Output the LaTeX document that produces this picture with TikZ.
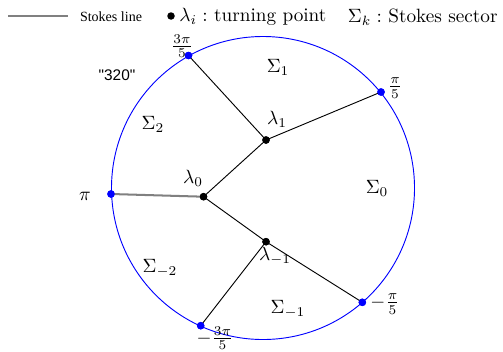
\documentclass[tikz,border=0pt]{standalone}
\usepackage{fontspec}
\newfontfamily\timesf{Liberation Serif}
\newfontfamily\arialf{Liberation Sans}
\begin{document}
\begin{tikzpicture}[x=0.52pt,y=-0.52pt,
  big/.style={font=\normalsize, inner sep=0pt},
  bdot/.style={circle, fill=blue, inner sep=0pt, minimum size=3.9pt},
  kdot/.style={circle, fill=black, inner sep=0pt, minimum size=3.9pt},
  sline/.style={black, line width=0.48pt},
  pline/.style={gray, line width=1.05pt}]
\useasboundingbox (0,0) rectangle (503,351);
% legend
\coordinate (l1) at (8,16);
\coordinate (l2) at (68,16);
\draw[gray, line width=0.7pt] (l1) -- (l2);
\node[inner sep=0pt, font=\timesf\fontsize{7.3}{9}\selectfont] (leg1) at (111,17) {Stokes line};
\node[kdot] (legdot) at (171,16) {};
\node[big, anchor=west] (leg2) at (179,17) {$\lambda_i:$ turning point};
\node[big, anchor=east] (leg3) at (498,17) {$\Sigma_k:$ Stokes sector};
% circle
\node[draw=blue, line width=0.48pt, circle, minimum size={303*0.52pt}, inner sep=0pt] (circ) at (263,188) {};
% points
\node[bdot] (pPi) at (111,194) {};
\node[bdot] (pP1) at (381,92) {};
\node[bdot] (pP3) at (188.5,55.5) {};
\node[bdot] (pM3) at (200.7,325.7) {};
\node[bdot] (pM1) at (362.3,302.3) {};
\node[kdot] (L0) at (203.5,196.7) {};
\node[kdot] (L1) at (266,140) {};
\node[kdot] (Lm1) at (266,241.7) {};
% lines
\draw[pline] (pPi.center) -- (L0.center);
\draw[sline] (L0.center) -- (L1.center);
\draw[sline] (L0.center) -- (Lm1.center);
\draw[sline] (L1.center) -- (pP3.center);
\draw[sline] (L1.center) -- (pP1.center);
\draw[sline] (Lm1.center) -- (pM3.center);
\draw[sline] (Lm1.center) -- (pM1.center);
\node[kdot] at (L0) {};
\node[kdot] at (L1) {};
\node[kdot] at (Lm1) {};
\node[bdot] at (pPi) {};
\node[bdot] at (pP1) {};
\node[bdot] at (pP3) {};
\node[bdot] at (pM3) {};
\node[bdot] at (pM1) {};
% labels
\node[big] (tPi) at (85,196) {$\pi$};
\node[big] (tP3) at (182,46) {$\frac{3\pi}{5}$};
\node[big] (tP1) at (395,88) {$\frac{\pi}{5}$};
\node[big] (tM1) at (385,304) {$-\frac{\pi}{5}$};
\node[big] (tM3) at (215,338.5) {$-\frac{3\pi}{5}$};
\node[big] (s1) at (278,67) {$\Sigma_1$};
\node[big] (s2) at (153,124) {$\Sigma_2$};
\node[big] (s0) at (377,188) {$\Sigma_0$};
\node[big] (sm2) at (160,268) {$\Sigma_{-2}$};
\node[big] (sm1) at (288,309) {$\Sigma_{-1}$};
\node[big] (tl1) at (277,119) {$\lambda_1$};
\node[big] (tl0) at (193,178) {$\lambda_0$};
\node[big] (tlm1) at (275,256) {$\lambda_{-1}$};
\node[inner sep=0pt, font=\arialf\fontsize{8}{10}\selectfont] (q) at (117,75) {"320"};
\end{tikzpicture}
\end{document}
